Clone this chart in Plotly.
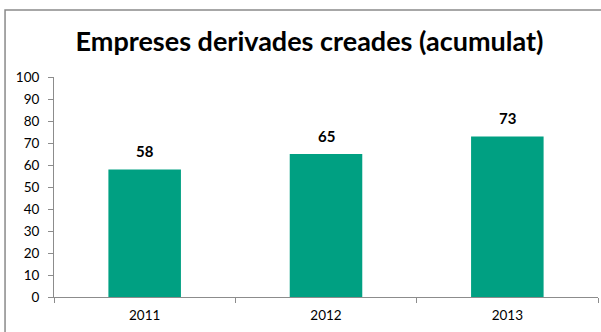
import plotly.graph_objects as go

years = ["2011", "2012", "2013"]
spinoffs = [58, 65, 73]

bar_color = "#00A082"
axis_gray = "#8C8C8C"
font_family = "Lato, 'Open Sans', sans-serif"

fig = go.Figure()
fig.add_trace(go.Bar(
    x=years, y=spinoffs,
    marker=dict(color=bar_color, line=dict(width=0)),
    width=0.4,
))

# value labels above the bars (category index, since the years look numeric)
for i, v in enumerate(spinoffs):
    fig.add_annotation(x=i, y=v, text=f"<b>{v}</b>", showarrow=False,
                       yanchor="bottom", yshift=7,
                       font=dict(size=15, color="black", family=font_family))

fig.update_layout(
    width=601, height=332,
    margin=dict(l=54, r=3, t=77, b=35),
    paper_bgcolor="white", plot_bgcolor="white",
    showlegend=False,
    title=dict(text="<b>Empreses derivades creades (acumulat)</b>",
               x=0.515, xanchor="center", y=0.876, yanchor="middle",
               font=dict(size=27, color="black", family=font_family)),
    font=dict(family=font_family, size=13.5, color="black"),
)

fig.update_yaxes(range=[0, 100], dtick=10, showgrid=False,
                 showline=True, linecolor=axis_gray, linewidth=1,
                 ticks="outside", ticklen=5, tickcolor=axis_gray,
                 ticklabelstandoff=6, zeroline=False)
fig.update_xaxes(type="category", range=[-0.5, 2.5], showline=True,
                 linecolor=axis_gray, linewidth=1,
                 ticks="outside", ticklen=5, tickcolor=axis_gray,
                 tickson="boundaries", showgrid=False, ticklabelstandoff=6)

# chart frame (cut off on right and bottom like in the reference)
fig.add_shape(type="rect", xref="paper", yref="paper",
              x0=-0.09, x1=1.05, y0=-0.4, y1=1.3045,
              line=dict(color="#8A8A8A", width=1.5), layer="below")

fig.write_html("out.html", config={"displayModeBar": False},
               post_script="document.body.style.margin='0';")
